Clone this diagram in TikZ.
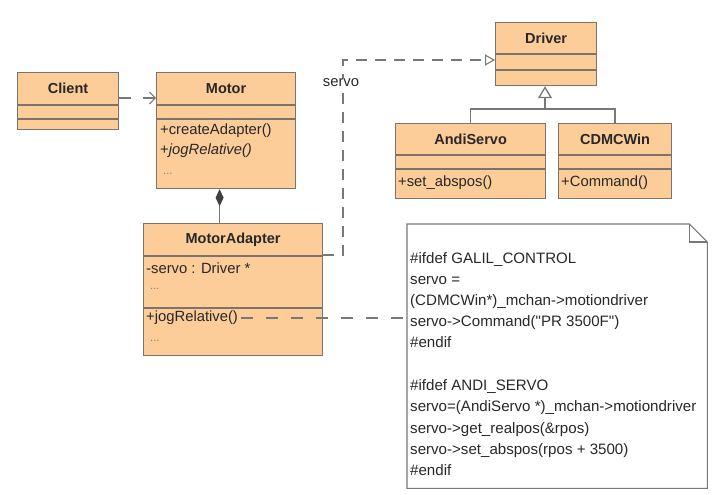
\documentclass[tikz,border=0pt]{standalone}
\usepackage{fontspec}
\setmainfont{Liberation Sans}[Ligatures=TeXOff]
\usetikzlibrary{arrows.meta}
\definecolor{clsfill}{RGB}{252,204,153}
\definecolor{clsdraw}{RGB}{125,115,105}
\definecolor{linegray}{RGB}{120,120,120}
\definecolor{txt}{RGB}{40,40,40}
\begin{document}
\begin{tikzpicture}[x=1pt,y=-1pt,
  cls/.style={draw=clsdraw,fill=clsfill,line width=1.2pt,anchor=north west,inner sep=0pt},
  sep/.style={draw=clsdraw,line width=1.1pt},
  title/.style={font=\fontsize{14.5}{17}\selectfont\bfseries,text=txt,inner sep=0pt},
  member/.style={font=\fontsize{14.8}{17}\selectfont,text=txt,inner sep=0pt,anchor=west},
  dots/.style={font=\fontsize{11}{13}\selectfont,text=gray,inner sep=0pt,anchor=west},
  notetxt/.style={font=\fontsize{15.1}{17}\selectfont,text=txt,inner sep=0pt,anchor=base west},
  dep/.style={draw=linegray,line width=1.1pt,dash pattern=on 12pt off 12pt},
  conn/.style={draw=linegray,line width=1.3pt}]
\useasboundingbox[fill=white] (0,0) rectangle (715,495);

% Client
\node[cls,minimum width=101pt,minimum height=57pt] (client) at (17,72) {};
\draw[sep] ([yshift=-33pt]client.north west) -- ([yshift=-33pt]client.north east);
\draw[sep] ([yshift=-47pt]client.north west) -- ([yshift=-47pt]client.north east);
\node[title] (client-t) at ([yshift=-16.5pt]client.north) {Client};

% Motor
\node[cls,minimum width=139pt,minimum height=116pt] (motor) at (156,72) {};
\draw[sep] ([yshift=-33pt]motor.north west) -- ([yshift=-33pt]motor.north east);
\draw[sep] ([yshift=-47pt]motor.north west) -- ([yshift=-47pt]motor.north east);
\node[title] (motor-t) at ([yshift=-16.5pt]motor.north) {Motor};
\node[member] (motor-m1) at (160,131) {+createAdapter()};
\node[member] (motor-m2) at (160,151) {+\textit{jogRelative()}};
\node[dots] (motor-m3) at (163,174) {...};

% Driver
\node[cls,minimum width=101pt,minimum height=63pt] (driver) at (495,22) {};
\draw[sep] ([yshift=-32pt]driver.north west) -- ([yshift=-32pt]driver.north east);
\draw[sep] ([yshift=-48pt]driver.north west) -- ([yshift=-48pt]driver.north east);
\node[title] (driver-t) at ([yshift=-16pt]driver.north) {Driver};

% AndiServo
\node[cls,minimum width=150pt,minimum height=75pt] (andi) at (395,123) {};
\draw[sep] ([yshift=-32pt]andi.north west) -- ([yshift=-32pt]andi.north east);
\draw[sep] ([yshift=-46pt]andi.north west) -- ([yshift=-46pt]andi.north east);
\node[title] (andi-t) at ([yshift=-16pt]andi.north) {AndiServo};
\node[member] (andi-m1) at (398,183) {+set\_abspos()};

% CDMCWin
\node[cls,minimum width=113pt,minimum height=75pt] (cdmc) at (558,123) {};
\draw[sep] ([yshift=-32pt]cdmc.north west) -- ([yshift=-32pt]cdmc.north east);
\draw[sep] ([yshift=-46pt]cdmc.north west) -- ([yshift=-46pt]cdmc.north east);
\node[title] (cdmc-t) at ([yshift=-16pt]cdmc.north) {CDMCWin};
\node[member] (cdmc-m1) at (561,183) {+Command()};

% MotorAdapter
\node[cls,minimum width=179pt,minimum height=132pt] (ma) at (143,223) {};
\draw[sep] ([yshift=-33pt]ma.north west) -- ([yshift=-33pt]ma.north east);
\draw[sep] ([yshift=-85pt]ma.north west) -- ([yshift=-85pt]ma.north east);
\node[title] (ma-t) at ([yshift=-16.5pt]ma.north) {MotorAdapter};
\node[member] (ma-a1) at (146,268) {-servo : Driver *};
\node[dots] (ma-a2) at (150,289) {...};
\node[member] (ma-m1) at (146,318) {+jogRelative()};
\node[dots] (ma-m2) at (150,341) {...};

% Note
\node[inner sep=0pt,minimum width=300pt,minimum height=264pt,anchor=north west] (note) at (407,224) {};
\draw[draw=linegray,line width=1.1pt,fill=white]
  (note.north west) -- ([xshift=-18pt]note.north east) -- ([yshift=-18pt]note.north east)
  -- (note.south east) -- (note.south west) -- cycle;
\draw[draw=linegray,line width=1.1pt]
  ([xshift=-18pt]note.north east) -- ([xshift=-18pt,yshift=-18pt]note.north east) -- ([yshift=-18pt]note.north east);
\node[notetxt] (n1) at (410,263) {\#ifdef GALIL\_CONTROL};
\node[notetxt] (n2) at (410,284) {servo =};
\node[notetxt] (n3) at (410,305) {(CDMCWin*)\_mchan->motiondriver};
\node[notetxt] (n4) at (410,326) {servo->Command("PR 3500F")};
\node[notetxt] (n5) at (410,347) {\#endif};
\node[notetxt] (n6) at (410,390) {\#ifdef ANDI\_SERVO};
\node[notetxt] (n7) at (410,411) {servo=(AndiServo *)\_mchan->motiondriver};
\node[notetxt] (n8) at (410,433) {servo->get\_realpos(\&rpos)};
\node[notetxt] (n9) at (410,454) {servo->set\_abspos(rpos + 3500)};
\node[notetxt] (n10) at (410,475) {\#endif};

% Connectors
\draw[dep,-{Straight Barb[length=6pt,width=12pt,line width=1pt]}] (client.east |- 0,98) -- (motor.west |- 0,98);

\coordinate (servobend) at (343,60);
\draw[dep,dash pattern=on 11pt off 8pt,-{Triangle[open,length=10pt,width=11pt,fill=white]}]
  ([yshift=-32pt]ma.north east) -| (servobend) -- (servobend -| driver.west);
\node[member,anchor=center,fill=white,inner sep=1pt] (servo-lbl) at (341,83) {servo};

\draw[conn,{Diamond[length=17pt,width=8pt,fill=darkgray,color=darkgray]}-]
  ([xshift=-6.5pt]motor.south) -- ([xshift=-6.5pt]motor.south |- ma.north);

\draw[conn,-{Triangle[open,length=12pt,width=14pt,fill=white]}]
  (andi.north) |- (545,109) -- (driver.south -| 545,0);
\draw[conn] (cdmc.north) |- (545,109);

\draw[dep,dash pattern=on 12pt off 13pt] ([xshift=3pt]ma-m1.east) -- (note.west |- ma-m1.east);
\end{tikzpicture}
\end{document}
